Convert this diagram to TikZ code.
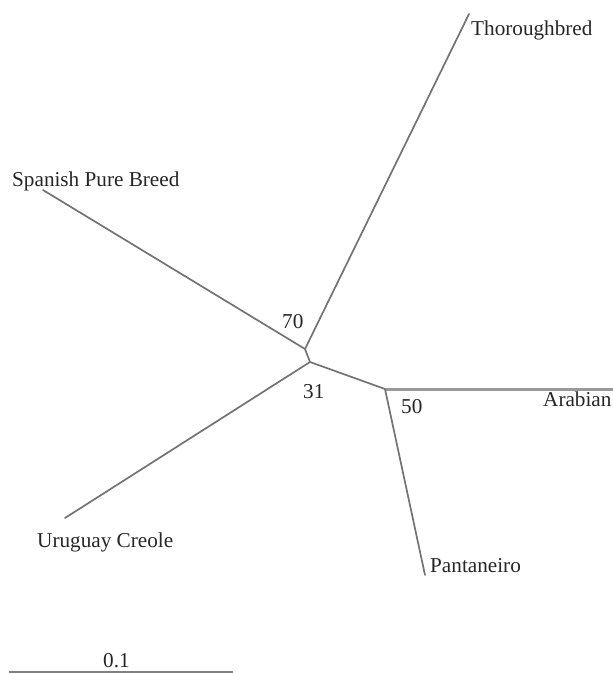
\documentclass[tikz,border=0pt]{standalone}
\usepackage{fontspec}
\setmainfont{Liberation Serif}
\begin{document}
\begin{tikzpicture}[x=1pt,y=-1pt,
  branch/.style={draw=black!55,line width=1.7pt,line cap=round,line join=round},
  thick branch/.style={draw=black!40,line width=3pt},
  lbl/.style={anchor=base west,inner sep=0pt,text=black!85,font=\fontsize{21.2}{24}\selectfont},
  num/.style={anchor=base west,inner sep=0pt,text=black!85,font=\fontsize{21.2}{24}\selectfont}]
\useasboundingbox (0,0) rectangle (613,673);
% internal nodes
\coordinate (A) at (305,349);
\coordinate (B) at (310,362);
\coordinate (C) at (385,389);
% tips
\coordinate (thor) at (469,14);
\coordinate (span) at (43,190);
\coordinate (urug) at (65,518);
\coordinate (arab) at (613,389);
\coordinate (pant) at (425,575);
% branches
\draw[branch] (A) -- (thor);
\draw[branch] (A) -- (span);
\draw[branch] (A) -- (B);
\draw[branch] (B) -- (urug);
\draw[branch] (B) -- (C);
\draw[thick branch] (C) -- (arab);
\draw[branch] (C) -- (pant);
% labels
\node[lbl] (tthor) at (471,35) {Thoroughbred};
\node[lbl] (tspan) at (12,186) {Spanish Pure Breed};
\node[lbl] (turug) at (37,547) {Uruguay Creole};
\node[lbl] (tarab) at (543,406) {Arabian};
\node[lbl] (tpant) at (430,572) {Pantaneiro};
\node[num] (n70) at (282,328) {70};
\node[num] (n31) at (303,398) {31};
\node[num] (n50) at (401,413) {50};
% scale bar
\coordinate (s1) at (9,672);
\coordinate (s2) at (233,672);
\draw[draw=black!50,line width=2pt] (s1) -- (s2);
\node[num] (scale) at (103,667) {0.1};
\end{tikzpicture}
\end{document}
